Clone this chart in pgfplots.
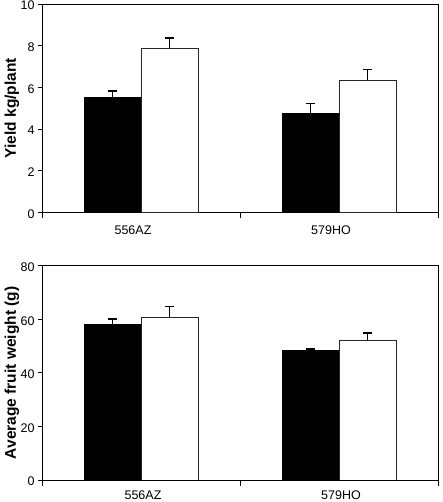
\documentclass[border=0pt]{standalone}
\usepackage{fontspec}
\setmainfont{Liberation Sans}
\usepackage{pgfplots}
\pgfplotsset{compat=1.18}
\pgfplotsset{
  panel/.style={
    scale only axis, width=396pt, anchor=south west,
    xmin=-0.5, xmax=1.5,
    ybar=0pt, bar width=57pt,
    xtick={0,1}, xticklabels={556AZ,579HO},
    major x tick style={draw=none},
    minor xtick={-0.5,0.5,1.5},
    minor tick length=6pt, major tick length=4pt,
    tick align=outside, tick pos=left,
    axis line style={line width=0.9pt, black},
    every tick/.style={black, line width=0.8pt},
    tick label style={font=\fontsize{12.5}{14}\selectfont},
    yticklabel style={yshift=-1.6pt},
    /pgf/number format/assume math mode=true,
    every axis y label/.style={at={(axis description cs:0,0.5)}, xshift=-30pt, rotate=90, anchor=center, font=\bfseries\fontsize{15.5}{17}\selectfont},
    error bars/error bar style={line width=0.8pt, black},
    error bars/error mark options={line width=1.6pt, mark size=4.5pt, black, rotate=90},
  },
  blk/.style={fill=black, draw=black, line width=0.8pt},
  wht/.style={fill=white, draw=black!85, line width=0.8pt},
}
\begin{document}
\begin{tikzpicture}
\useasboundingbox (0,0) rectangle (443pt,502pt);
\begin{axis}[panel, at={(42pt,289.7pt)}, height=208.3pt,
  ymin=0, ymax=10, ytick={0,2,...,10}, ylabel={Yield kg/plant},
  xticklabel style={xshift=-8pt, yshift=-6pt}]
\addplot[blk, error bars/.cd, y dir=plus, y explicit] coordinates {(0,5.51) +- (0,0.32) (1,4.74) +- (0,0.49)};
\addplot[wht, error bars/.cd, y dir=plus, y explicit] coordinates {(0,7.87) +- (0,0.51) (1,6.35) +- (0,0.51)};
\end{axis}
\begin{axis}[panel, at={(42pt,22pt)}, height=214.3pt,
  ymin=0, ymax=80, ytick={0,20,...,80}, ylabel={Average fruit weight (g)},
  xticklabel style={xshift=2pt, yshift=-3.5pt}]
\addplot[blk, error bars/.cd, y dir=plus, y explicit] coordinates {(0,58.2) +- (0,1.9) (1,48.5) +- (0,0.4)};
\addplot[wht, error bars/.cd, y dir=plus, y explicit] coordinates {(0,60.8) +- (0,3.9) (1,52.2) +- (0,2.6)};
\end{axis}
\end{tikzpicture}
\end{document}
